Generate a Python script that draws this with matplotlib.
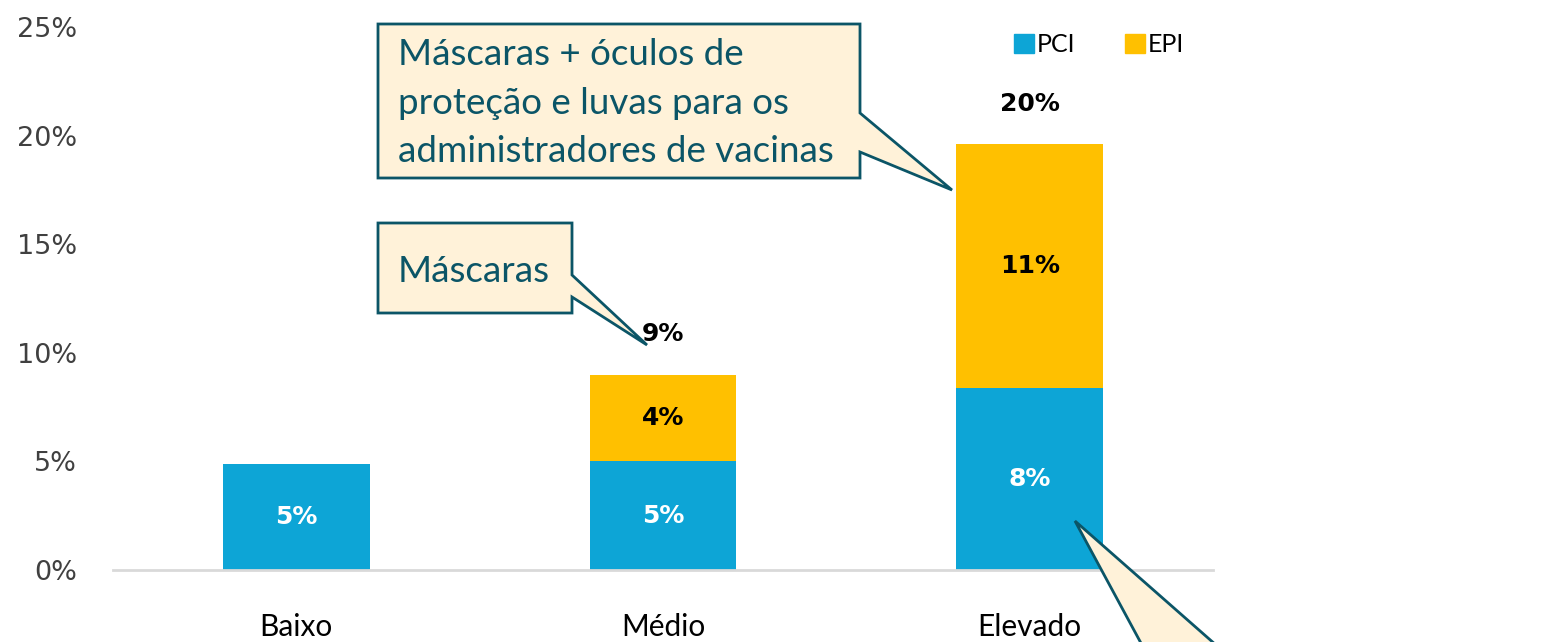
import matplotlib
matplotlib.use("Agg")
import matplotlib.pyplot as plt
from matplotlib.patches import Polygon, Patch
import numpy as np

# ---- data ----
categories = ["Baixo", "Médio", "Elevado"]
pci = [4.9, 5.0, 8.4]
epi = [0.0, 4.0, 11.2]
pci_labels = ["5%", "5%", "8%"]
epi_labels = ["", "4%", "11%"]
total_labels = ["", "9%", "20%"]
yticks = [0, 5, 10, 15, 20, 25]
ytick_labels = ["0%", "5%", "10%", "15%", "20%", "25%"]
callout_big = "Máscaras + óculos de\nproteção e luvas para os\nadministradores de vacinas"
callout_small = "Máscaras"

C_PCI = "#0DA5D6"
C_EPI = "#FFC000"
C_EDGE = "#0B5567"
C_FILL = "#FFF2D9"

W, H = 1552, 642
fig = plt.figure(figsize=(W / 100, H / 100), dpi=100)
ax = fig.add_axes([113 / W, (H - 570) / H, 1100 / W, (570 - 27) / H])

x = np.arange(len(categories))
bw = 0.4
ax.bar(x, pci, bw, color=C_PCI, label="PCI", zorder=2)
ax.bar(x, epi, bw, bottom=pci, color=C_EPI, label="EPI", zorder=2)

lab_fs = 18
for i in range(len(categories)):
    if pci_labels[i]:
        ax.text(x[i], pci[i] / 2, pci_labels[i], ha="center", va="center",
                color="white", fontsize=lab_fs, fontweight="bold", family="DejaVu Sans")
    if epi_labels[i]:
        ax.text(x[i], pci[i] + epi[i] / 2, epi_labels[i], ha="center", va="center",
                color="black", fontsize=lab_fs, fontweight="bold", family="DejaVu Sans")
    if total_labels[i]:
        ax.annotate(total_labels[i], (x[i], pci[i] + epi[i]), xytext=(0, 29),
                    textcoords="offset points", ha="center", va="center",
                    color="black", fontsize=lab_fs, fontweight="bold", family="DejaVu Sans")

ax.set_xlim(-0.5, 2.5)
ax.set_ylim(0, 25)
ax.set_yticks(yticks)
ax.set_yticklabels(ytick_labels, fontsize=19.5, color="#404040", family="DejaVu Sans")
ax.set_xticks(x)
ax.set_xticklabels(categories, fontsize=21.5, color="black", family="Lato")
ax.tick_params(axis="y", length=0, pad=26)
ax.tick_params(axis="x", length=0, pad=31)
for s in ["top", "right", "left"]:
    ax.spines[s].set_visible(False)
ax.spines["bottom"].set_color("#D9D9D9")
ax.spines["bottom"].set_linewidth(2)

leg = fig.legend(handles=[Patch(color=C_PCI, label="PCI"), Patch(color=C_EPI, label="EPI")],
                 loc="center", bbox_to_anchor=(1099 / W, (H - 45) / H), ncol=2,
                 frameon=False, handlelength=0.8, handleheight=0.8, handletextpad=0.1,
                 columnspacing=2.0, prop={"family": "Lato", "size": 18})

def P(px, py):
    return (px / W, (H - py) / H)

big = [P(378, 24), P(860, 24), P(860, 113), P(952, 190), P(860, 152), P(860, 178), P(378, 178)]
fig.patches.append(Polygon(big, closed=True, transform=fig.transFigure, facecolor=C_FILL,
                           edgecolor=C_EDGE, linewidth=2, zorder=5))
small = [P(378, 223), P(572, 223), P(572, 275), P(647, 345), P(572, 297), P(572, 313), P(378, 313)]
fig.patches.append(Polygon(small, closed=True, transform=fig.transFigure, facecolor=C_FILL,
                           edgecolor=C_EDGE, linewidth=2, zorder=5))
bottom = [P(1075, 521), P(1216, 645), P(1142, 645)]
fig.patches.append(Polygon(bottom, closed=True, transform=fig.transFigure, facecolor=C_FILL,
                           edgecolor=C_EDGE, linewidth=2, zorder=5))

fig.text(398 / W, (H - 103) / H, callout_big, ha="left", va="center", color=C_EDGE,
         fontsize=26.5, family="Lato", linespacing=1.58, zorder=6)
fig.text(398 / W, (H - 271) / H, callout_small, ha="left", va="center", color=C_EDGE,
         fontsize=26.5, family="Lato", zorder=6)

fig.savefig("out.png", dpi=100)
